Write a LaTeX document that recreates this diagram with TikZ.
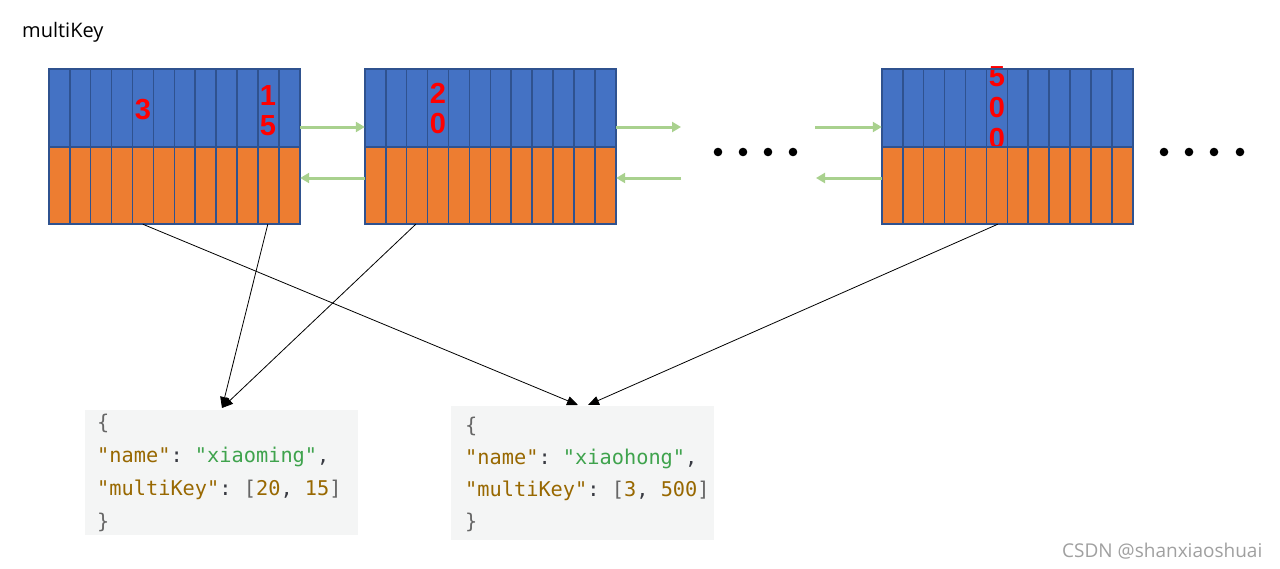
\documentclass[tikz,border=0pt]{standalone}
\usepackage{fontspec}
\setmainfont{Open Sans}
\setmonofont{DejaVu Sans Mono}
\newfontfamily\digitfont{Liberation Sans}
\usetikzlibrary{arrows.meta,calc}
\definecolor{blueC}{HTML}{4472C4}
\definecolor{orangeC}{HTML}{ED7D31}
\definecolor{gridC}{HTML}{2F528F}
\definecolor{greenA}{HTML}{A9D18E}
\definecolor{codeBg}{HTML}{F4F5F5}
\definecolor{keyC}{HTML}{986801}
\definecolor{strC}{HTML}{3FA34D}
\definecolor{punC}{HTML}{383A42}
\definecolor{brC}{HTML}{666666}
\definecolor{wmC}{HTML}{A0A0A0}
\newcommand\jk[1]{\textcolor{keyC}{#1}}
\newcommand\js[1]{\textcolor{strC}{#1}}
\newcommand\jp[1]{\textcolor{punC}{#1}}
\newcommand\jb[1]{\textcolor{brC}{#1}}
\tikzset{
  blockbox/.style={draw=none, minimum width=251pt, minimum height=155pt, inner sep=0pt},
  digit/.style={text=red, align=center, inner sep=0pt, font=\digitfont\bfseries\fontsize{29}{30}\selectfont},
  gline/.style={draw=gridC, line width=1.6pt},
  garrow/.style={draw=greenA, line width=3pt, -{Triangle[length=9pt,width=10pt]}},
  conn/.style={draw=black, line width=0.8pt, -{Triangle[length=11pt,width=9pt]}},
  codebox/.style={fill=codeBg, draw=none, inner sep=0pt, anchor=north west},
  code/.style={anchor=base west, inner sep=0pt, font=\ttfamily\fontsize{20.3}{24}\selectfont},
  dotc/.style={fill=black}
}
\begin{document}
\begin{tikzpicture}[x=1pt,y=-1pt]
\useasboundingbox (0,0) rectangle (1280,568);
\fill[white] (0,0) rectangle (1280,568);

% title
\node[anchor=base west, inner sep=0pt, font=\fontsize{20}{24}\selectfont] (title) at (22,37) {multiKey};

% blocks
\node[blockbox] (b1) at (174.5,146.5) {};
\node[blockbox] (b2) at (490.5,146.5) {};
\node[blockbox] (b3) at (1007.5,146.5) {};

\foreach \n in {b1,b2,b3}{
  \fill[blueC] (\n.north west) rectangle ($(\n.north east)+(0,78)$);
}

% digits (drawn under the orange half)
\node[digit] (d3) at (143,110) {3};
\node[digit] (d15) at (268,111) {1\\5};
\node[digit] (d20) at (438,109) {2\\0};
\node[digit, font=\digitfont\bfseries\fontsize{29}{31}\selectfont] (d500) at (997,108) {5\\0\\0};

\foreach \n in {b1,b2,b3}{
  \fill[orangeC] ($(\n.north west)+(0,78)$) rectangle (\n.south east);
  \draw[gline] (\n.north west) rectangle (\n.south east);
  \draw[gline] ($(\n.north west)+(0,78)$) -- ($(\n.north east)+(0,78)$);
  \foreach \i in {1,...,11}{
    \draw[gline] ($(\n.north west)+(\i*20.9167,0)$) -- ($(\n.south west)+(\i*20.9167,0)$);
  }
}

% free ends of green arrows
\coordinate (e2r) at (681,127);
\coordinate (e2l) at (681,178);
\coordinate (e3r) at (815,127);
\coordinate (e3l) at (816,178);

% green arrows
\draw[garrow] ($(b1.east)+(0,-19.5)$) -- ($(b2.west)+(0,-19.5)$);
\draw[garrow] ($(b2.west)+(0,31.5)$) -- ($(b1.east)+(0,31.5)$);
\draw[garrow] ($(b2.east)+(0,-19.5)$) -- (e2r);
\draw[garrow] (e2l) -- ($(b2.east)+(0,31.5)$);
\draw[garrow] (e3r) -- ($(b3.west)+(0,-19.5)$);
\draw[garrow] ($(b3.west)+(0,31.5)$) -- (e3l);

% dots
\foreach \x in {718,743,768,793,1164,1189,1214,1240}{
  \fill[dotc] (\x,152) circle (4.3);
}

% code boxes
\node[codebox, minimum width=273pt, minimum height=125pt] (c1) at (85,410) {};
\node[codebox, minimum width=263pt, minimum height=134pt] (c2) at (451,406) {};

\node[code] (c1a) at (97,429) {\jb{\{}};
\node[code] (c1b) at (97,462) {\jk{"name"}\jp{: }\js{"xiaoming"}\jp{,}};
\node[code] (c1c) at (97,495) {\jk{"multiKey"}\jp{: }\jb{[}\jk{20}\jp{, }\jk{15}\jb{]}};
\node[code] (c1d) at (97,528) {\jb{\}}};

\node[code] (c2a) at (465,432) {\jb{\{}};
\node[code] (c2b) at (465,464) {\jk{"name"}\jp{: }\js{"xiaohong"}\jp{,}};
\node[code] (c2c) at (465,496) {\jk{"multiKey"}\jp{: }\jb{[}\jk{3}\jp{, }\jk{500}\jb{]}};
\node[code] (c2d) at (465,528) {\jb{\}}};

% connector end points
\coordinate (t1) at ($(c1.north west)+(137,-2)$);
\coordinate (t2a) at ($(c2.north west)+(127,-1)$);
\coordinate (t2b) at ($(c2.north west)+(137,-1)$);

% black connectors
\draw[conn] ($(b1.south west)+(94,0)$) -- (t2a);
\draw[conn] ($(b1.south west)+(219,0)$) -- (t1);
\draw[conn] ($(b2.south west)+(51,0)$) -- (t1);
\draw[conn] ($(b3.south west)+(116,0)$) -- (t2b);

% watermark
\node[anchor=base west, inner sep=0pt, text=wmC, font=\fontsize{19}{22}\selectfont] (wm) at (1062,557) {CSDN @shanxiaoshuai};
\end{tikzpicture}
\end{document}
